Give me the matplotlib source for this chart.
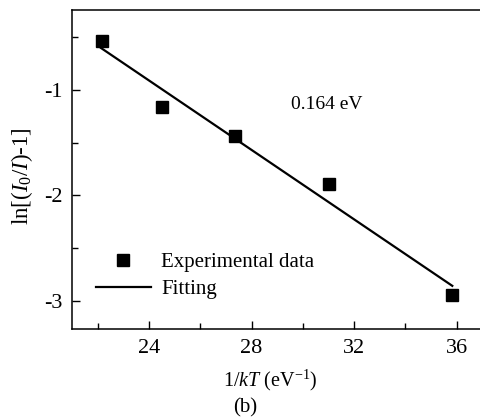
import matplotlib
matplotlib.use("Agg")
import matplotlib.pyplot as plt
from matplotlib.ticker import MultipleLocator
from matplotlib.lines import Line2D

plt.rcParams["font.family"] = ["Liberation Serif", "DejaVu Serif"]
plt.rcParams["mathtext.fontset"] = "custom"
plt.rcParams["mathtext.rm"] = "Liberation Serif"
plt.rcParams["mathtext.it"] = "Liberation Serif:italic"
plt.rcParams["axes.unicode_minus"] = False

# data
inv_kT = [22.17, 24.5, 27.37, 31.02, 35.81]
ln_ratio = [-0.53, -1.16, -1.44, -1.89, -2.95]

# fitted line end points
fit_x = [22.13, 35.83]
fit_y = [-0.60, -2.86]

fig = plt.figure(figsize=(4.81, 4.20), dpi=100)
ax = fig.add_axes([0.1497, 0.2167, 0.8503, 0.7593])

ax.plot(inv_kT, ln_ratio, "s", color="black", markersize=9.2, zorder=3)
ax.plot(fit_x, fit_y, "-", color="black", linewidth=1.6)

ax.set_xlim(21, 36.95)
ax.set_ylim(-3.27, -0.24)
ax.xaxis.set_major_locator(MultipleLocator(4))
ax.xaxis.set_minor_locator(MultipleLocator(2))
ax.yaxis.set_major_locator(MultipleLocator(1))
ax.yaxis.set_minor_locator(MultipleLocator(0.5))
ax.tick_params(which="major", direction="in", length=6, width=1, labelsize=16, pad=7)
ax.tick_params(which="minor", direction="in", length=4, width=1)
ax.spines["right"].set_visible(False)
for s in ["left", "bottom", "top"]:
    ax.spines[s].set_linewidth(1.1)

ax.set_xlabel(r"1/$\mathit{kT}$ (eV$^{\mathregular{-1}}$)", fontsize=14.5)
ax.xaxis.set_label_coords(0.484, -0.16)
ax.xaxis.label.set_va("center")
ax.set_ylabel(r"ln[($\mathit{I}_{\mathregular{0}}$/$\mathit{I}$)-1]", fontsize=16.5)
ax.yaxis.set_label_coords(-0.122, 0.48)
ax.yaxis.label.set_va("center")

ax.text(0.623, 0.705, "0.164 eV", transform=ax.transAxes, fontsize=14,
        ha="center", va="center")

handles = [
    Line2D([], [], marker="s", linestyle="none", color="black", markersize=9.2),
    Line2D([], [], linestyle="-", color="black", linewidth=1.6),
]
ax.legend(handles, ["Experimental data", "Fitting"], loc="lower left",
          bbox_to_anchor=(0.012, 0.035), frameon=False, fontsize=15,
          handlelength=2.64, handletextpad=0.5, labelspacing=0.35)

fig.text(0.509, 0.029, "(b)", fontsize=15, ha="center", va="center")

fig.savefig("out.png", dpi=100)
